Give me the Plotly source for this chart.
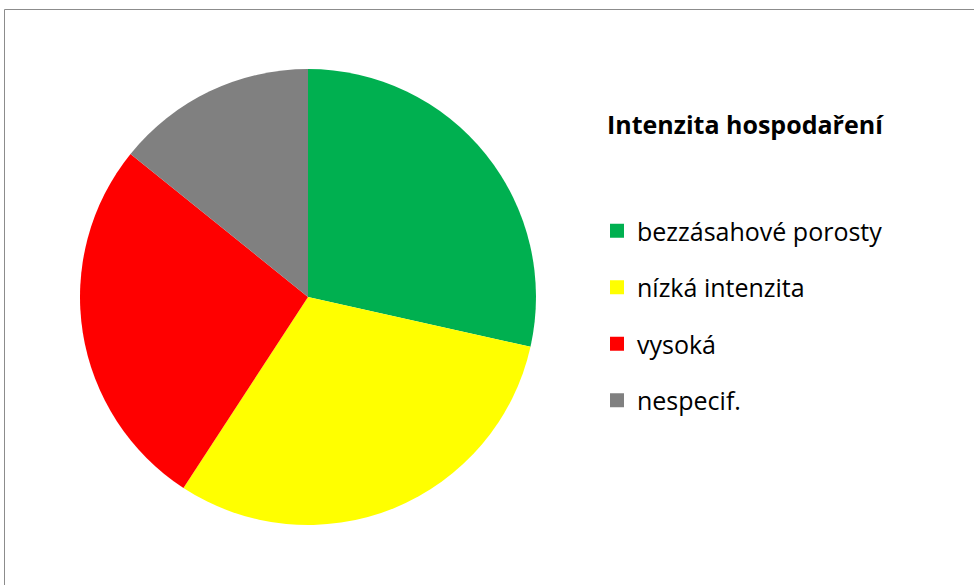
import plotly.graph_objects as go

# ---------------------------------------------------------------------------
# Data
# ---------------------------------------------------------------------------
labels = ["bezzásahové porosty", "nízká intenzita", "vysoká", "nespecif."]
shares = [28.5, 30.7, 26.6, 14.2]
colors = ["#00B050", "#FFFF00", "#FF0000", "#808080"]
legend_title = "Intenzita hospodaření"

W, H = 974, 585
FONT = "'Open Sans', sans-serif"

fig = go.Figure()

fig.add_trace(go.Pie(
    labels=labels,
    values=shares,
    sort=False,
    direction="clockwise",
    rotation=0,
    marker=dict(colors=colors, line=dict(width=0)),
    textinfo="none",
    hoverinfo="label+percent",
    showlegend=False,
    domain=dict(x=[80 / W, 536 / W], y=[(H - 525) / H, (H - 69) / H]),
))

# legend entries (one group each so the gap between rows can be set)
for lab, col in zip(labels, colors):
    fig.add_trace(go.Scatter(
        x=[None], y=[None],
        mode="markers",
        marker=dict(symbol="square", size=14, color=col),
        name=lab,
        legendgroup=lab,
        showlegend=True,
    ))

fig.add_annotation(
    text=f"<b>{legend_title}</b>",
    x=605 / W, y=1 - 124 / H,
    xref="paper", yref="paper",
    xanchor="left", yanchor="middle",
    showarrow=False,
    font=dict(size=25, color="#000000", family=FONT),
)

# chart frame
fig.add_shape(
    type="rect", xref="paper", yref="paper",
    x0=4.5 / W, x1=1.02, y0=-0.02, y1=1 - 9.5 / H,
    line=dict(color="#8c8c8c", width=1),
    fillcolor="rgba(0,0,0,0)",
)

fig.update_layout(
    width=W, height=H,
    margin=dict(l=0, r=0, t=0, b=0),
    paper_bgcolor="white",
    plot_bgcolor="white",
    xaxis=dict(visible=False),
    yaxis=dict(visible=False),
    font=dict(family=FONT, color="#000000"),
    legend=dict(
        x=597 / W, y=1 - 208 / H,
        xanchor="left", yanchor="top",
        font=dict(size=25, color="#000000", family=FONT),
        tracegroupgap=21,
        itemclick=False,
        bgcolor="rgba(0,0,0,0)",
    ),
)

fig.write_html(
    "out.html",
    config={"displayModeBar": False},
    post_script="document.body.style.margin='0';",
)
